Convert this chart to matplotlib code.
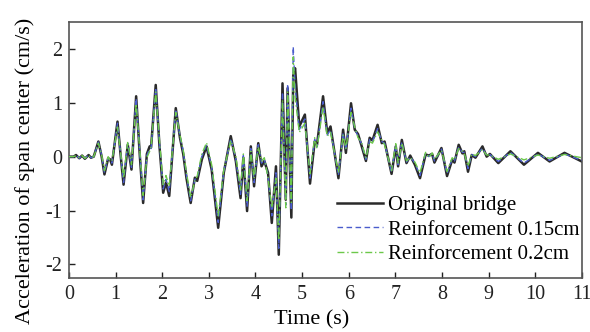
import matplotlib
matplotlib.use("Agg")
import matplotlib.pyplot as plt

time_s = [0.00, 0.10, 0.15, 0.22, 0.28, 0.34, 0.42, 0.47, 0.53, 0.63,
          0.70, 0.76, 0.84, 0.88, 0.92, 1.04, 1.11, 1.17, 1.26, 1.34,
          1.44, 1.52, 1.59, 1.67, 1.73, 1.76, 1.86, 1.94, 2.02, 2.08,
          2.15, 2.29, 2.38, 2.45, 2.52, 2.61, 2.70, 2.75, 2.85, 2.95,
          3.06, 3.20, 3.32, 3.47, 3.58, 3.68, 3.74, 3.82, 3.90, 3.97,
          4.06, 4.13, 4.19, 4.27, 4.35, 4.44, 4.50, 4.58, 4.65, 4.69,
          4.77, 4.81, 4.85, 4.94, 5.06, 5.17, 5.27, 5.32, 5.45, 5.54,
          5.61, 5.78, 5.88, 5.94, 6.05, 6.13, 6.20, 6.27, 6.37, 6.45,
          6.51, 6.62, 6.71, 6.77, 6.92, 7.01, 7.06, 7.14, 7.24, 7.32,
          7.42, 7.53, 7.65, 7.72, 7.79, 7.84, 7.99, 8.11, 8.22, 8.27,
          8.36, 8.44, 8.48, 8.56, 8.64, 8.72, 8.87, 8.96, 9.03, 9.21,
          9.47, 9.76, 10.06, 10.31, 10.63, 11.00]

original_bridge = [0.00, 0.00, 0.03, -0.03, 0.02, -0.04, 0.03, -0.02, 0.00, 0.28,
                   0.00, -0.33, -0.03, -0.05, -0.15, 0.65, 0.00, -0.52, 0.22, -0.24,
                   1.12, 0.00, -0.86, 0.05, 0.19, 0.17, 1.33, 0.20, -0.67, -0.48,
                   -0.73, 0.90, 0.35, 0.05, -0.40, -0.86, -0.39, -0.45, -0.05, 0.19,
                   -0.24, -1.32, -0.30, 0.38, -0.09, -0.77, -0.02, -1.01, 0.19, -0.55,
                   0.25, -0.18, -0.08, -0.30, -1.23, -0.18, -1.82, 1.36, -0.80, 1.27,
                   -1.13, 1.50, 1.64, 0.56, 0.78, -0.50, 0.28, 0.22, 1.12, 0.44,
                   0.56, -0.40, 0.50, 0.07, 0.99, 0.50, 0.42, 0.22, -0.08, 0.35,
                   0.30, 0.59, 0.25, 0.28, -0.32, 0.19, -0.18, 0.31, -0.12, 0.02,
                   -0.15, -0.40, 0.04, 0.02, 0.05, -0.11, 0.16, -0.36, -0.06, -0.11,
                   0.22, 0.06, 0.10, -0.28, 0.03, -0.02, 0.19, 0.00, 0.05, -0.12,
                   0.10, -0.15, 0.07, -0.09, 0.07, -0.09]

reinf_015 = [0.00, 0.00, 0.03, -0.03, 0.02, -0.03, 0.03, -0.02, 0.00, 0.27,
             0.02, -0.30, -0.02, -0.06, -0.12, 0.62, 0.02, -0.48, 0.25, -0.20,
             1.08, 0.05, -0.80, 0.02, 0.15, 0.15, 1.28, 0.25, -0.60, -0.42,
             -0.65, 0.88, 0.38, 0.10, -0.35, -0.82, -0.42, -0.40, 0.00, 0.22,
             -0.20, -1.22, -0.28, 0.34, -0.05, -0.70, 0.02, -0.92, 0.15, -0.48,
             0.22, -0.12, -0.05, -0.35, -1.10, -0.30, -1.70, 1.20, -0.90, 1.35,
             -1.00, 2.04, 1.30, 0.50, 0.70, -0.40, 0.32, 0.18, 1.02, 0.40,
             0.50, -0.35, 0.45, 0.12, 0.90, 0.52, 0.38, 0.25, -0.05, 0.32,
             0.28, 0.52, 0.28, 0.25, -0.30, 0.22, -0.15, 0.28, -0.10, 0.00,
             -0.12, -0.35, 0.06, 0.00, 0.06, -0.08, 0.14, -0.32, -0.04, -0.08,
             0.18, 0.08, 0.08, -0.22, 0.04, 0.00, 0.16, 0.02, 0.04, -0.09,
             0.08, -0.12, 0.05, -0.07, 0.05, -0.07]

reinf_02 = [0.00, 0.00, 0.02, -0.02, 0.02, -0.03, 0.02, -0.02, 0.00, 0.25,
            0.03, -0.26, 0.00, -0.08, -0.08, 0.55, 0.05, -0.40, 0.28, -0.15,
            0.98, 0.10, -0.72, -0.02, 0.10, 0.18, 1.20, 0.30, -0.52, -0.35,
            -0.55, 0.82, 0.40, 0.12, -0.30, -0.76, -0.45, -0.36, 0.05, 0.26,
            -0.15, -1.10, -0.25, 0.30, 0.00, -0.62, 0.05, -0.82, 0.10, -0.40,
            0.18, -0.08, -0.02, -0.40, -0.95, -0.40, -1.55, 1.05, -0.95, 1.20,
            -0.85, 1.85, 1.10, 0.45, 0.62, -0.32, 0.35, 0.15, 0.92, 0.38,
            0.45, -0.30, 0.40, 0.15, 0.82, 0.55, 0.35, 0.28, -0.02, 0.28,
            0.25, 0.46, 0.30, 0.22, -0.26, 0.24, -0.12, 0.25, -0.08, -0.02,
            -0.10, -0.30, 0.08, -0.02, 0.07, -0.05, 0.12, -0.28, -0.02, -0.06,
            0.15, 0.10, 0.06, -0.18, 0.05, 0.02, 0.13, 0.03, 0.03, -0.05,
            0.05, -0.06, 0.03, -0.03, 0.04, -0.02]

labels = ["Original bridge", "Reinforcement 0.15cm", "Reinforcement 0.2cm"]
x_ticks = list(range(0, 12))
y_ticks = [-2, -1, 0, 1, 2]

plt.rcParams['font.family'] = ['Liberation Serif', 'DejaVu Serif']
plt.rcParams['axes.unicode_minus'] = False

fig = plt.figure(figsize=(5.9, 3.32), dpi=100)
ax = fig.add_axes([0.117, 0.163, 0.869, 0.771])

ax.plot(time_s, original_bridge, color='#2a2a2a', lw=1.8, ls='-', label=labels[0], zorder=2,
        solid_joinstyle='round')
ax.plot(time_s, reinf_015, color='#4a5ccc', lw=1.0, ls=(0, (4, 2.5)), label=labels[1], zorder=3)
ax.plot(time_s, reinf_02, color='#6cc84a', lw=1.0, ls=(0, (5, 2, 1, 2)), label=labels[2], zorder=4)

ax.set_xlim(0, 11)
ax.set_ylim(-2.25, 2.5)
ax.set_xticks(x_ticks)
ax.set_yticks(y_ticks)
ax.tick_params(direction='in', length=4, width=1, labelsize=14.5, colors='#222222', pad=5)
for s in ax.spines.values():
    s.set_color('#555555')
    s.set_linewidth(1.2)

ax.set_xlabel('Time (s)', fontsize=16)
ax.set_ylabel('Acceleration of span center (cm/s)', fontsize=16)
ax.xaxis.set_label_coords(0.474, -0.128)
ax.yaxis.set_label_coords(-0.066, 0.42)

leg = ax.legend(loc='lower right', frameon=False, fontsize=15, handlelength=2.2,
                handletextpad=0.25, labelspacing=0.25, borderaxespad=0.0,
                bbox_to_anchor=(1.012, 0.02))

fig.savefig('out.png', dpi=100)
